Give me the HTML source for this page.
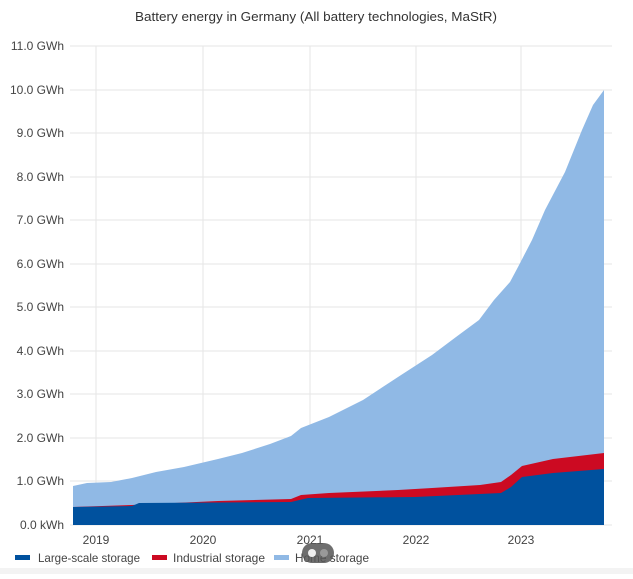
<!DOCTYPE html><html><head><style>body{margin:0;background:#fff}svg text{font-family:"Liberation Sans",sans-serif}</style></head><body>
<svg width="633" height="574" viewBox="0 0 633 574">
<rect width="633" height="574" fill="#fff"/>
<text x="316" y="21" text-anchor="middle" font-size="13" fill="#333" textLength="362" lengthAdjust="spacingAndGlyphs">Battery energy in Germany (All battery technologies, MaStR)</text>
<g stroke="#e6e6e6" stroke-width="1">
<line x1="70" x2="612" y1="46" y2="46"/><line x1="70" x2="612" y1="90" y2="90"/><line x1="70" x2="612" y1="133" y2="133"/><line x1="70" x2="612" y1="177" y2="177"/><line x1="70" x2="612" y1="220" y2="220"/><line x1="70" x2="612" y1="264" y2="264"/><line x1="70" x2="612" y1="307" y2="307"/><line x1="70" x2="612" y1="351" y2="351"/><line x1="70" x2="612" y1="394" y2="394"/><line x1="70" x2="612" y1="438" y2="438"/><line x1="70" x2="612" y1="481" y2="481"/><line x1="70" x2="612" y1="525" y2="525"/>
<line x1="96" x2="96" y1="46" y2="525"/><line x1="203" x2="203" y1="46" y2="525"/><line x1="310" x2="310" y1="46" y2="525"/><line x1="416" x2="416" y1="46" y2="525"/><line x1="521" x2="521" y1="46" y2="525"/>
</g>
<g font-size="12" fill="#444" text-anchor="end">
<text x="64" y="50">11.0 GWh</text><text x="64" y="94">10.0 GWh</text><text x="64" y="137">9.0 GWh</text><text x="64" y="181">8.0 GWh</text><text x="64" y="224">7.0 GWh</text><text x="64" y="268">6.0 GWh</text><text x="64" y="311">5.0 GWh</text><text x="64" y="355">4.0 GWh</text><text x="64" y="398">3.0 GWh</text><text x="64" y="442">2.0 GWh</text><text x="64" y="485">1.0 GWh</text><text x="64" y="529">0.0 kWh</text>
</g>
<g font-size="12" fill="#444" text-anchor="middle">
<text x="96" y="544">2019</text><text x="203" y="544">2020</text><text x="310" y="544">2021</text><text x="416" y="544">2022</text><text x="521" y="544">2023</text>
</g>
<polygon fill="#90b9e5" points="73,525 73,486 87,483 111,482 132,478 156,472 184,467 218,459 242,453 270,444 291,436 301,428 329,417 363,400 398,377 432,355 456,337 479,320 494,300 510,282 518,267 532,240 545,210 565,172 582,130 593,105 604,90 604,525"/>
<polygon fill="#cc0a22" points="73,525 73,507 132,505 218,501 291,499 301,495 329,493 398,490 432,488 480,485 501,482 511,475 522,466 553,459 604,453 604,525"/>
<polygon fill="#00519e" points="73,525 73,507 132,506 139,503 291,502 308,498 415,497 501,493 511,487 522,477 553,473 604,469 604,525"/>
<g font-size="12" fill="#444">
<rect x="15" y="555" width="15" height="5" fill="#00519e"/><text x="38" y="562" textLength="102" lengthAdjust="spacingAndGlyphs">Large-scale storage</text>
<rect x="152" y="555" width="15" height="5" fill="#cc0a22"/><text x="173" y="562" textLength="92" lengthAdjust="spacingAndGlyphs">Industrial storage</text>
<rect x="274" y="555" width="15" height="5" fill="#90b9e5"/><text x="295" y="562" textLength="74" lengthAdjust="spacingAndGlyphs">Home storage</text>
</g>
<rect x="302" y="543" width="32" height="20" rx="10" fill="#555" opacity="0.85"/>
<circle cx="312" cy="553" r="4" fill="#eee"/><circle cx="324" cy="553" r="4" fill="#999"/>
<rect x="0" y="568" width="633" height="6" fill="#f3f3f3"/>
</svg>
</body></html>
